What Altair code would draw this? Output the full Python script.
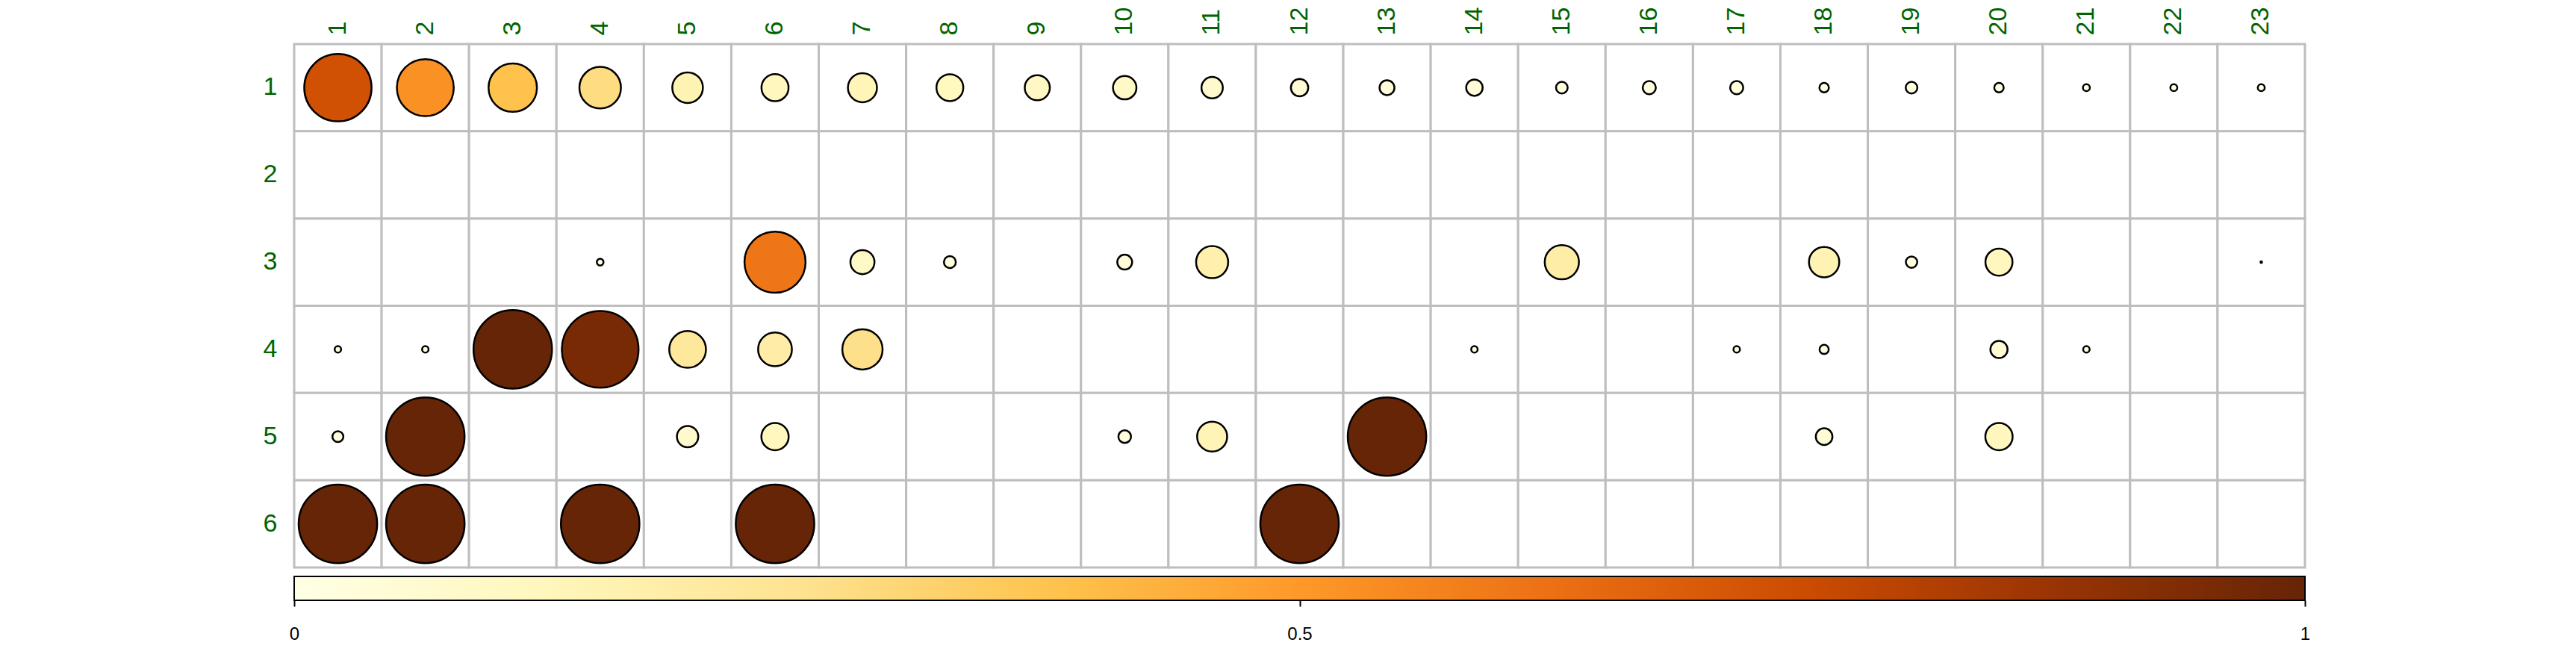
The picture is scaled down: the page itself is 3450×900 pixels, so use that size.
import altair as alt
import pandas as pd

rows = [1, 2, 3, 4, 5, 6]
cols = list(range(1, 24))

row1 = [0.735, 0.525, 0.38, 0.28, 0.152, 0.119, 0.137, 0.117, 0.102, 0.089, 0.074, 0.049,
        0.036, 0.044, 0.022, 0.028, 0.028, 0.0145, 0.022, 0.0145, 0.0078, 0.0078, 0.0078]
row2 = [0] * 23
row3 = [0, 0, 0, 0.0073, 0, 0.606, 0.094, 0.023, 0, 0.036, 0.167, 0,
        0, 0, 0.19, 0, 0, 0.149, 0.021, 0.119, 0, 0, 0.0004]
row4 = [0.0068, 0.0068, 1.0, 0.955, 0.219, 0.185, 0.263, 0, 0, 0, 0, 0,
        0, 0.0068, 0, 0, 0.0068, 0.0137, 0, 0.048, 0.0068, 0, 0]
row5 = [0.0195, 1.0, 0, 0, 0.074, 0.121, 0, 0, 0, 0.026, 0.146, 0,
        1.0, 0, 0, 0, 0, 0.045, 0, 0.121, 0, 0, 0]
row6 = [1.0, 1.0, 0, 1.0, 0, 1.0, 0, 0, 0, 0, 0, 1.0,
        0, 0, 0, 0, 0, 0, 0, 0, 0, 0, 0]
matrix = [row1, row2, row3, row4, row5, row6]

colorbar_ticks = [0, 0.5, 1]
color_stops = [0, 0.125, 0.25, 0.375, 0.5, 0.625, 0.75, 0.875, 1]
ylorbr = ["#FFFFE5", "#FFF7BC", "#FEE391", "#FEC44F", "#FE9929",
          "#EC7014", "#CC4C02", "#993404", "#662506"]

records = []
for r, vals in zip(rows, matrix):
    for c, v in zip(cols, vals):
        records.append({"row": r, "col": c, "value": v})
df = pd.DataFrame(records)

W, H = 2693, 701
cell = min(W / len(cols), H / len(rows))
dmax = 0.9 * cell

FONT = "Liberation Sans"

x_enc = alt.X("col:O", scale=alt.Scale(paddingInner=0, paddingOuter=0),
              axis=alt.Axis(orient="top", title=None, labelAngle=-90, ticks=False, domain=False,
                            labelPadding=12, labelFontSize=34, labelColor="#006400",
                            labelFont=FONT, grid=False))
y_enc = alt.Y("row:O", scale=alt.Scale(paddingInner=0, paddingOuter=0),
              axis=alt.Axis(title=None, ticks=False, domain=False, labelPadding=23,
                            labelFontSize=34, labelColor="#006400", labelFont=FONT,
                            grid=False))

cells = alt.Chart(df).mark_rect(fill="white", stroke="#BEBEBE", strokeWidth=3).encode(
    x=x_enc, y=y_enc
)

circles = alt.Chart(df).transform_filter("datum.value > 0").mark_point(
    shape="circle", filled=True, opacity=1, stroke="black", strokeWidth=2.5, strokeOpacity=1
).encode(
    x=alt.X("col:O"),
    y=alt.Y("row:O"),
    size=alt.Size("value:Q", scale=alt.Scale(domain=[0, 1], range=[0, dmax * dmax], zero=True),
                  legend=None),
    color=alt.Color("value:Q",
                    scale=alt.Scale(domain=color_stops, range=ylorbr, interpolate="rgb"),
                    legend=None),
)

grid_chart = alt.layer(cells, circles).properties(width=W, height=H)

# colour bar: one rectangle spanning the colour scale's domain, filled with the same stops
bar_df = pd.DataFrame({"lo": [colorbar_ticks[0]], "hi": [colorbar_ticks[-1]]})
gradient = alt.LinearGradient(
    gradient="linear",
    stops=[alt.GradientStop(offset=o, color=c) for o, c in zip(color_stops, ylorbr)],
    x1=0, x2=1, y1=0, y2=0,
)
colorbar = alt.Chart(bar_df).mark_rect(fill=gradient, stroke="black", strokeWidth=2).encode(
    x=alt.X("lo:Q", scale=alt.Scale(domain=[colorbar_ticks[0], colorbar_ticks[-1]], nice=False,
                                    zero=False, padding=0),
            axis=alt.Axis(title=None, values=colorbar_ticks, format="~g", domain=False, grid=False,
                          ticks=True, tickSize=8, tickWidth=2, tickColor="black",
                          labelFlush=False, labelPadding=25, labelFontSize=24,
                          labelColor="black", labelFont=FONT, labelOverlap=False)),
    x2="hi:Q",
).properties(width=W, height=32)

chart = alt.vconcat(grid_chart, colorbar, spacing=12, bounds="flush").properties(
    padding={"left": 344, "top": 1, "right": 5, "bottom": 5},
).configure_view(stroke=None)

chart.save("out.html", embed_options={"renderer": "svg", "actions": False})
